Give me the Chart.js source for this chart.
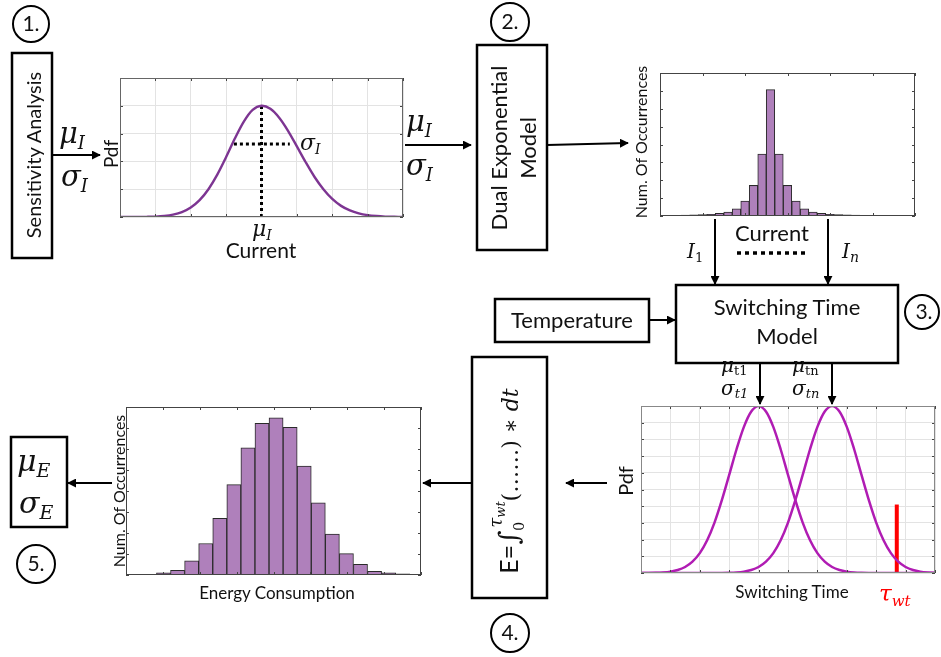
<!DOCTYPE html>
<html>
<head>
<meta charset="utf-8">
<script src="https://cdn.jsdelivr.net/npm/chart.js@4.4.1/dist/chart.umd.min.js"></script>
<style>
  html,body{margin:0;padding:0;background:#fff;}
  #wrap{position:relative;width:941px;height:657px;overflow:hidden;background:#fff;}
  canvas{position:absolute;}
  svg{position:absolute;left:0;top:0;pointer-events:none;}
  svg text{font-family:Lato,"Open Sans",sans-serif;fill:#111;}
  .m{font-family:"DejaVu Serif","Liberation Serif",serif;font-style:italic;}
  .u{font-style:normal;}
</style>
</head>
<body>
<div id="wrap">
  <canvas id="c1" width="291" height="147" style="left:116px;top:74px"></canvas>
  <canvas id="c2" width="263" height="151" style="left:656px;top:69px"></canvas>
  <canvas id="c3" width="302" height="175" style="left:637px;top:402px"></canvas>
  <canvas id="c4" width="303" height="176" style="left:122px;top:403px"></canvas>
  <svg width="941" height="657" viewBox="0 0 941 657">
    <defs>
      <marker id="ah" viewBox="0 0 10 10" refX="9" refY="5" markerWidth="4.5" markerHeight="4.5" orient="auto">
        <path d="M0,0 L10,5 L0,10 z" fill="#000"/>
      </marker>
    </defs>
    <g fill="none" stroke="#000" stroke-width="2.5">
      <rect x="12" y="53" width="40" height="205"/>
      <rect x="477" y="45" width="70" height="205"/>
      <rect x="676" y="285" width="222" height="78"/>
      <rect x="495" y="299" width="154" height="43"/>
      <rect x="472" y="357" width="75" height="241"/>
      <rect x="11" y="437" width="56" height="90"/>
    </g>
    <g fill="none" stroke="#000" stroke-width="2">
      <circle cx="31" cy="24" r="18"/>
      <circle cx="510" cy="22" r="19"/>
      <circle cx="922" cy="312" r="17"/>
      <circle cx="510" cy="633" r="19"/>
      <circle cx="36" cy="564" r="19"/>
    </g>
    <g stroke="#000" stroke-width="2" marker-end="url(#ah)">
      <line x1="52" y1="155" x2="100" y2="155"/>
      <line x1="405" y1="145" x2="471" y2="145"/>
      <line x1="547" y1="145" x2="628" y2="143"/>
      <line x1="715" y1="219" x2="715" y2="284"/>
      <line x1="828" y1="219" x2="828" y2="284"/>
      <line x1="649" y1="320" x2="675" y2="320"/>
      <line x1="760" y1="363" x2="760" y2="404"/>
      <line x1="832" y1="363" x2="832" y2="404"/>
      <line x1="607" y1="483" x2="566" y2="483"/>
      <line x1="472" y1="483" x2="423" y2="483"/>
      <line x1="112" y1="483" x2="68" y2="483"/>
    </g>
    <line x1="737" y1="253" x2="806" y2="253" stroke="#000" stroke-width="3.5" stroke-dasharray="4,4"/>

    <!-- circled numbers -->
    <g font-size="21" text-anchor="middle">
      <text x="31" y="31">1.</text>
      <text x="510" y="29">2.</text>
      <text x="924" y="319">3.</text>
      <text x="510" y="640">4.</text>
      <text x="36" y="571">5.</text>
    </g>

    <!-- rotated box texts -->
    <text transform="translate(33,155) rotate(-90)" text-anchor="middle" dominant-baseline="central" font-size="20">Sensitivity Analysis</text>
    <text transform="translate(498,148) rotate(-90)" text-anchor="middle" dominant-baseline="central" font-size="22">Dual Exponential</text>
    <text transform="translate(527,148) rotate(-90)" text-anchor="middle" dominant-baseline="central" font-size="22">Model</text>
    <text x="787" y="315" text-anchor="middle" font-size="22">Switching Time</text>
    <text x="787" y="344" text-anchor="middle" font-size="22">Model</text>
    <text x="572" y="328" text-anchor="middle" font-size="22">Temperature</text>

    <!-- math labels -->
    <text class="m" x="59" y="143" font-size="29">μ<tspan font-size="18" dy="6">I</tspan></text>
    <text class="m" x="61" y="186" font-size="29">σ<tspan font-size="18" dy="6">I</tspan></text>
    <text class="m" x="406" y="131" font-size="29">μ<tspan font-size="18" dy="6">I</tspan></text>
    <text class="m" x="406" y="175" font-size="29">σ<tspan font-size="18" dy="6">I</tspan></text>
    <text class="m" x="300" y="150" font-size="22">σ<tspan font-size="14" dy="4">I</tspan></text>
    <text class="m" x="252" y="236" font-size="22">μ<tspan font-size="14" dy="4">I</tspan></text>
    <text x="261" y="258" text-anchor="middle" font-size="21">Current</text>
    <text x="772" y="241" text-anchor="middle" font-size="22">Current</text>
    <text class="m" x="687" y="258" font-size="20">I<tspan class="u" font-size="13" dy="4">1</tspan></text>
    <text class="m" x="842" y="258" font-size="20">I<tspan font-size="14" dy="4">n</tspan></text>
    <text class="m" x="721" y="372" font-size="20">μ<tspan class="u" font-size="13" dy="3">t1</tspan></text>
    <text class="m" x="721" y="395" font-size="20">σ<tspan font-size="13" dy="3">t1</tspan></text>
    <text class="m" x="792" y="372" font-size="20">μ<tspan class="u" font-size="13" dy="3">tn</tspan></text>
    <text class="m" x="792" y="395" font-size="20">σ<tspan font-size="13" dy="3">tn</tspan></text>
    <text class="m" x="17" y="471" font-size="30">μ<tspan font-size="19" dy="6">E</tspan></text>
    <text class="m" x="19" y="513" font-size="30">σ<tspan font-size="19" dy="6">E</tspan></text>

    <!-- integral -->
    <text transform="translate(518,481) rotate(-90)" text-anchor="middle" font-size="22" class="m"><tspan class="u" style="font-family:Lato" font-size="25">E=</tspan><tspan class="u" font-size="27">∫</tspan><tspan class="u" font-size="14" dy="6">0</tspan><tspan font-size="18" dx="-6" dy="-22">τ</tspan><tspan font-size="13" dy="3">wt</tspan><tspan class="u" dy="13">(……) ∗ </tspan><tspan>dt</tspan></text>

    <!-- axis labels -->
    <text transform="translate(110,154) rotate(-90)" text-anchor="middle" dominant-baseline="central" font-size="19">Pdf</text>
    <text transform="translate(640,142) rotate(-90)" text-anchor="middle" dominant-baseline="central" font-size="16">Num. Of Occurrences</text>
    <text transform="translate(625,481) rotate(-90)" text-anchor="middle" dominant-baseline="central" font-size="20">Pdf</text>
    <text x="792" y="598" text-anchor="middle" font-size="17">Switching Time</text>
    <text class="m" x="879" y="601" font-size="23" style="fill:#f00">τ<tspan font-size="15" dy="5">wt</tspan></text>
    <text transform="translate(118,491) rotate(-90)" text-anchor="middle" dominant-baseline="central" font-size="16">Num. Of Occurrences</text>
    <text x="277" y="599" text-anchor="middle" font-size="17">Energy Consumption</text>
  </svg>
</div>
<script>
// ---------- data ----------
// Chart 1: current pdf
const CURRENT_X = [0,0.25,0.5,0.75,1,1.25,1.5,1.75,2,2.25,2.5,2.75,3,3.25,3.5,3.75,4,4.25,4.5,4.75,5,5.25,5.5,5.75,6,6.25,6.5,6.75,7,7.25,7.5,7.75,8];
const CURRENT_PDF = [0,0.0001,0.0002,0.0012,0.003,0.0075,0.017,0.035,0.068,0.121,0.2,0.305,0.431,0.566,0.686,0.77,0.8,0.778,0.714,0.62,0.508,0.394,0.288,0.2,0.13,0.08,0.047,0.026,0.0135,0.0067,0.003,0.0014,0.0006];
const MU_MARK = [[4,0],[4,0.8]];
const SIGMA_MARK = [[3.22,0.525],[4.8,0.525]];

// Chart 2: current histogram (bin index, count)
const CUR_BINS = [1,2,3,4,5,6,7,8,9,10,11,12,13,14,15,16,17,18,19,20,21,22,23,24,25];
const CUR_COUNTS = [0.04,0.04,0.05,0.06,0.08,0.1,0.15,0.22,0.4,0.84,1.71,3.46,7.07,3.46,1.71,0.84,0.4,0.22,0.15,0.1,0.08,0.06,0.05,0.04,0.04];

// Chart 3: switching time pdfs
const SWITCH_X = [0,0.25,0.5,0.75,1,1.25,1.5,1.75,2,2.25,2.5,2.75,3,3.25,3.5,3.75,4,4.25,4.5,4.75,5,5.25,5.5,5.75,6,6.25,6.5,6.75,7,7.25,7.5,7.75,8,8.25,8.5,8.75,9,9.25,9.5,9.75,10];
const PDF_T1 = [0.0002,0.0006,0.0015,0.0036,0.0083,0.018,0.036,0.068,0.119,0.196,0.302,0.436,0.587,0.741,0.875,0.967,1,0.967,0.875,0.741,0.587,0.436,0.302,0.196,0.119,0.068,0.036,0.018,0.0083,0.0036,0.0015,0.0006,0.0002,0,0,0,0,0,0,0,0];
const PDF_TN = [0,0,0,0,0,0,0,0,0,0,0.0002,0.0006,0.0015,0.0036,0.0083,0.018,0.036,0.068,0.119,0.196,0.302,0.436,0.587,0.741,0.875,0.967,1,0.967,0.875,0.741,0.587,0.436,0.302,0.196,0.119,0.068,0.036,0.018,0.0083,0.0036,0.0015];
const TAU_WT = [[8.7,0],[8.7,0.41]];

// Chart 4: energy histogram
const EN_BINS = [1,2,3,4,5,6,7,8,9,10,11,12,13,14,15,16,17,18,19,20];
const EN_COUNTS = [0.03,0.02,0.1,0.22,0.68,1.5,2.7,4.3,6.05,7.22,7.48,7.03,5.19,3.44,1.95,1.02,0.51,0.17,0.1,0.05];

// ---------- helpers ----------
const xy = (xs, ys) => xs.map((x, i) => ({x, y: ys[i]}));
const pts = arr => arr.map(p => ({x: p[0], y: p[1]}));

const frameTicks = {
  id: 'frameTicks',
  afterDatasetsDraw(chart, args, o) {
    const {ctx, chartArea: a} = chart;
    const xs = chart.scales.x, ys = chart.scales.y;
    ctx.save();
    ctx.strokeStyle = o.color || '#444';
    ctx.lineWidth = 1;
    ctx.beginPath();
    const L = o.len || 3;
    xs.ticks.forEach(t => {
      const p = Math.round(xs.getPixelForValue(t.value)) + 0.5;
      ctx.moveTo(p, a.bottom); ctx.lineTo(p, a.bottom - L);
      ctx.moveTo(p, a.top); ctx.lineTo(p, a.top + L);
    });
    ys.ticks.forEach(t => {
      const p = Math.round(ys.getPixelForValue(t.value)) + 0.5;
      ctx.moveTo(a.left, p); ctx.lineTo(a.left + L, p);
      ctx.moveTo(a.right, p); ctx.lineTo(a.right - L, p);
    });
    ctx.stroke();
    ctx.strokeStyle = o.frame || '#555';
    ctx.strokeRect(Math.round(a.left) + 0.5, Math.round(a.top) + 0.5, Math.round(a.right - a.left) - 1, Math.round(a.bottom - a.top) - 1);
    ctx.restore();
  }
};

function sc(min, max, step, grid, extra) {
  return Object.assign({
    type: 'linear', min, max, offset: false,
    ticks: {display: false, stepSize: step},
    grid: {display: grid, color: '#e3e3e3', drawTicks: false, offset: false, lineWidth: 1},
    border: {display: false}
  }, extra || {});
}
const base = {
  responsive: false, animation: false, events: [],
  layout: {padding: 4},
  plugins: {legend: {display: false}, tooltip: {enabled: false}}
};
const opts = (x, y, ft) => Object.assign({}, base, {
  scales: {x, y},
  plugins: Object.assign({}, base.plugins, {frameTicks: ft || {}})
});

// ---------- chart 1 ----------
new Chart(document.getElementById('c1'), {
  type: 'line',
  data: {datasets: [
    {data: xy(CURRENT_X, CURRENT_PDF), borderColor: '#7d3592', borderWidth: 2.4, pointRadius: 0, tension: 0.3},
    {data: pts(MU_MARK), borderColor: '#000', borderWidth: 3, borderDash: [3, 3], pointRadius: 0},
    {data: pts(SIGMA_MARK), borderColor: '#000', borderWidth: 3, borderDash: [3, 3], pointRadius: 0}
  ]},
  options: opts(sc(0, 8, 1, true), sc(0, 1, 0.2, true), {frame: '#666'}),
  plugins: [frameTicks]
});

// ---------- chart 2 ----------
new Chart(document.getElementById('c2'), {
  type: 'bar',
  data: {datasets: [{
    data: xy(CUR_BINS, CUR_COUNTS), backgroundColor: '#af80bb', borderColor: '#2a2a2a', borderWidth: 1,
    barPercentage: 1, categoryPercentage: 1, borderSkipped: 'bottom'
  }]},
  options: opts(sc(0, 30, 5, false), sc(0, 8, 1, false), {frame: '#444'}),
  plugins: [frameTicks]
});

// ---------- chart 3 ----------
new Chart(document.getElementById('c3'), {
  type: 'line',
  data: {datasets: [
    {data: xy(SWITCH_X, PDF_T1), borderColor: '#b01cb3', borderWidth: 2.5, pointRadius: 0, tension: 0.3},
    {data: xy(SWITCH_X, PDF_TN), borderColor: '#b01cb3', borderWidth: 2.5, pointRadius: 0, tension: 0.3},
    {data: pts(TAU_WT), borderColor: '#ff0000', borderWidth: 4, pointRadius: 0}
  ]},
  options: opts(sc(0, 10, 1, true), sc(0, 1, 0.1, true), {frame: '#888'}),
  plugins: [frameTicks]
});

// ---------- chart 4 ----------
new Chart(document.getElementById('c4'), {
  type: 'bar',
  data: {datasets: [{
    data: xy(EN_BINS, EN_COUNTS), backgroundColor: '#af80bb', borderColor: '#2a2a2a', borderWidth: 1,
    barPercentage: 1, categoryPercentage: 1, borderSkipped: 'bottom'
  }]},
  options: opts(
    sc(0.335, 21.3, 1, false, {afterBuildTicks: s => {
      const t = []; for (let i = 0; i <= 8; i++) t.push({value: s.min + i * (s.max - s.min) / 8}); s.ticks = t;
    }}),
    sc(0, 8, 1, false), {frame: '#444'}),
  plugins: [frameTicks]
});
</script>
</body>
</html>
